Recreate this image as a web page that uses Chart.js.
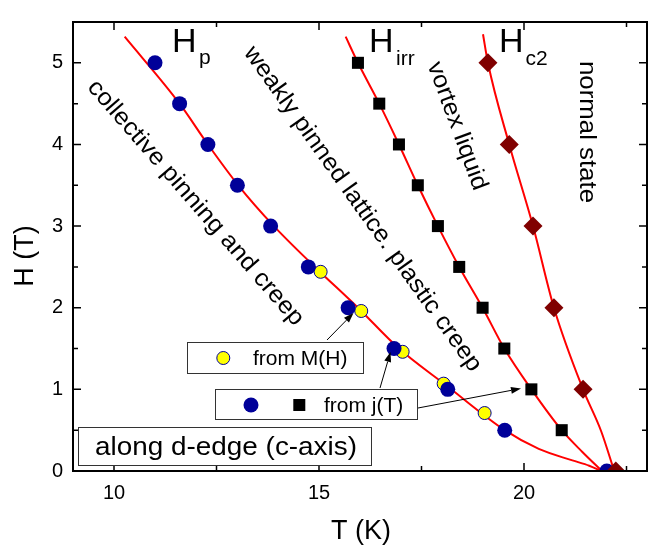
<!DOCTYPE html>
<html>
<head>
<meta charset="utf-8">
<script src="https://cdn.jsdelivr.net/npm/chart.js@4/dist/chart.umd.min.js"></script>
<style>
html,body{margin:0;padding:0;background:#fff;}
canvas{display:block;}
</style>
</head>
<body>
<canvas id="c" width="657" height="546"></canvas>
<script>
// ---- data ----
const xTickValues = [10, 15, 20];
const yTickValues = [0, 1, 2, 3, 4, 5];

// H_p from j(T) (blue circles)
const hpJT_T = [11.0, 11.6, 12.29, 13.01, 13.82, 14.74, 15.71, 16.83, 18.14, 19.53, 22.02];
const hpJT_H = [5.0, 4.5, 4.0, 3.5, 3.0, 2.5, 2.0, 1.5, 1.0, 0.5, 0.0];

// H_p from M(H) (yellow circles)
const hpMH_T = [15.04, 16.03, 17.04, 18.04, 19.04];
const hpMH_H = [2.44, 1.96, 1.46, 1.07, 0.71];

// H_irr (black squares)
const irr_T = [15.95, 16.47, 16.95, 17.41, 17.9, 18.42, 18.99, 19.52, 20.18, 20.92];
const irr_H = [5.0, 4.5, 4.0, 3.5, 3.0, 2.5, 2.0, 1.5, 1.0, 0.5];

// H_c2 (dark red diamonds)
const c2_T = [19.12, 19.64, 20.22, 20.73, 21.44, 22.24];
const c2_H = [5.0, 4.0, 3.0, 2.0, 1.0, 0.0];

// fitted guide curves
const fitHp_T = [10.26, 11.6, 12.29, 13.03, 13.9, 14.9, 15.95, 16.95, 18.1, 19.53, 20.36, 21.18, 21.59, 21.88];
const fitHp_H = [5.32, 4.5, 4.0, 3.5, 3.0, 2.5, 2.0, 1.5, 1.05, 0.5, 0.27, 0.13, 0.065, 0.0];
const fitIrr_T = [15.65, 15.95, 16.47, 16.95, 17.41, 17.9, 18.42, 18.99, 19.52, 20.18, 20.92, 21.43, 21.9];
const fitIrr_H = [5.32, 5.0, 4.5, 4.0, 3.5, 3.0, 2.5, 2.0, 1.5, 1.0, 0.5, 0.23, 0.0];
const fitC2_T = [19.0, 19.12, 19.64, 20.22, 20.73, 21.44, 21.88, 22.2];
const fitC2_H = [5.35, 5.0, 4.0, 3.0, 2.0, 1.0, 0.49, 0.0];

const zip = (xs, ys) => xs.map((x, i) => ({x: x, y: ys[i]}));
const FONT = '"Liberation Sans", Arial, Helvetica, sans-serif';

function txt(ctx, s, x, y, size, opts) {
  opts = opts || {};
  ctx.save();
  ctx.translate(x, y);
  if (opts.angle) ctx.rotate(opts.angle * Math.PI / 180);
  ctx.font = size + 'px ' + FONT;
  ctx.textAlign = opts.align || 'left';
  ctx.textBaseline = opts.baseline || 'alphabetic';
  if (opts.width) {
    const w = ctx.measureText(s).width;
    ctx.scale(opts.width / w, 1);
  }
  ctx.fillStyle = '#000';
  ctx.fillText(s, 0, 0);
  ctx.restore();
}

function arrow(ctx, x1, y1, x2, y2) {
  ctx.save();
  ctx.strokeStyle = '#000';
  ctx.fillStyle = '#000';
  ctx.lineWidth = 1;
  const a = Math.atan2(y2 - y1, x2 - x1);
  const L = 10, W = 3.5;
  ctx.beginPath();
  ctx.moveTo(x1, y1);
  ctx.lineTo(x2 - L * Math.cos(a), y2 - L * Math.sin(a));
  ctx.stroke();
  ctx.beginPath();
  ctx.moveTo(x2, y2);
  ctx.lineTo(x2 - L * Math.cos(a) + W * Math.sin(a), y2 - L * Math.sin(a) - W * Math.cos(a));
  ctx.lineTo(x2 - L * Math.cos(a) - W * Math.sin(a), y2 - L * Math.sin(a) + W * Math.cos(a));
  ctx.closePath();
  ctx.fill();
  ctx.restore();
}

function box(ctx, l, t, r, b) {
  ctx.save();
  ctx.fillStyle = '#fff';
  ctx.fillRect(l, t, r - l, b - t);
  ctx.strokeStyle = '#333';
  ctx.lineWidth = 1;
  ctx.strokeRect(l + 0.5, t + 0.5, r - l, b - t);
  ctx.restore();
}

const framePlugin = {
  id: 'frame',
  afterDraw(chart) {
    const ctx = chart.ctx;
    const a = chart.chartArea;
    const xs = chart.scales.x, ys = chart.scales.y;
    ctx.save();
    ctx.strokeStyle = '#000';
    ctx.lineWidth = 2;
    ctx.strokeRect(a.left, a.top, a.right - a.left, a.bottom - a.top);
    ctx.lineWidth = 1.5;
    ctx.beginPath();
    for (let v = 10; v <= 22.5; v += 2.5) {
      const px = xs.getPixelForValue(v);
      const len = (v % 5 === 0) ? 8 : 5;
      ctx.moveTo(px, a.bottom); ctx.lineTo(px, a.bottom - len);
      ctx.moveTo(px, a.top); ctx.lineTo(px, a.top + len);
    }
    for (let v = 0.5; v <= 5; v += 0.5) {
      const py = ys.getPixelForValue(v);
      const len = (Math.abs(v - Math.round(v)) < 1e-6) ? 8 : 5;
      ctx.moveTo(a.left, py); ctx.lineTo(a.left + len, py);
      ctx.moveTo(a.right, py); ctx.lineTo(a.right - len, py);
    }
    ctx.stroke();
    ctx.restore();

    // axis titles
    txt(ctx, 'T (K)', 361, 539, 27, {align: 'center'});
    txt(ctx, 'H (T)', 33, 256, 27, {align: 'center', angle: -90});

    // curve labels
    txt(ctx, 'H', 172, 52, 34);
    txt(ctx, 'p', 199, 64, 21);
    txt(ctx, 'H', 369, 52, 34);
    txt(ctx, 'irr', 396, 65, 21);
    txt(ctx, 'H', 499, 52, 34);
    txt(ctx, 'c2', 525.5, 65, 21);

    // region labels
    txt(ctx, 'collective pinning and creep', 195.5, 203, 24, {align: 'center', baseline: 'middle', angle: 49, width: 317});
    txt(ctx, 'weakly pinned lattice. plastic creep', 362.5, 209, 24, {align: 'center', baseline: 'middle', angle: 54.6, width: 393});
    txt(ctx, 'vortex liquid', 457, 126, 24, {align: 'center', baseline: 'middle', angle: 69.7, width: 135});
    txt(ctx, 'normal state', 587, 132, 24, {align: 'center', baseline: 'middle', angle: 90, width: 142});

    // legend boxes
    box(ctx, 187, 342, 363, 373);
    ctx.save();
    ctx.beginPath(); ctx.arc(223.3, 358, 6.5, 0, Math.PI * 2);
    ctx.fillStyle = '#ffff00'; ctx.fill();
    ctx.strokeStyle = '#000099'; ctx.lineWidth = 1; ctx.stroke();
    ctx.restore();
    txt(ctx, 'from M(H)', 253, 365, 21);

    box(ctx, 215, 389, 417, 419);
    ctx.save();
    ctx.beginPath(); ctx.arc(251, 405, 7.5, 0, Math.PI * 2);
    ctx.fillStyle = '#000099'; ctx.fill();
    ctx.fillStyle = '#000'; ctx.fillRect(293.3, 399, 12, 12);
    ctx.restore();
    txt(ctx, 'from j(T)', 324, 412, 21);

    box(ctx, 78, 427, 371, 465);
    txt(ctx, 'along d-edge (c-axis)', 226, 455, 26, {align: 'center', width: 262});

    arrow(ctx, 327, 340, 353.5, 313);
    arrow(ctx, 380, 388, 390.5, 352);
    arrow(ctx, 418, 408, 521, 388.5);
  }
};

const lineStyle = {
  type: 'line', showLine: true, borderColor: '#ff0000', borderWidth: 2,
  pointRadius: 0, fill: false, cubicInterpolationMode: 'monotone', order: 10
};

new Chart(document.getElementById('c'), {
  type: 'scatter',
  data: {
    datasets: [
      Object.assign({label: 'fit Hp', data: zip(fitHp_T, fitHp_H)}, lineStyle),
      Object.assign({label: 'fit Hirr', data: zip(fitIrr_T, fitIrr_H)}, lineStyle),
      Object.assign({label: 'fit Hc2', data: zip(fitC2_T, fitC2_H)}, lineStyle),
      {label: 'from M(H)', data: zip(hpMH_T, hpMH_H), pointStyle: 'circle', pointRadius: 6.5,
       backgroundColor: '#ffff00', borderColor: '#000099', borderWidth: 1, order: 3},
      {label: 'Hp from j(T)', data: zip(hpJT_T, hpJT_H), pointStyle: 'circle', pointRadius: 7.5,
       backgroundColor: '#000099', borderColor: '#000099', borderWidth: 0, order: 2},
      {label: 'Hirr', data: zip(irr_T, irr_H), pointStyle: 'rect', pointRadius: 8.5,
       backgroundColor: '#000', borderColor: '#000', borderWidth: 0, order: 2},
      {label: 'Hc2', data: zip(c2_T, c2_H), pointStyle: 'rectRot', pointRadius: 9.5,
       backgroundColor: '#800000', borderColor: '#800000', borderWidth: 0, order: 1}
    ]
  },
  options: {
    responsive: false,
    animation: false,
    devicePixelRatio: 1,
    layout: {padding: {top: 9, right: 10, left: 0, bottom: 0}},
    plugins: {legend: {display: false}, tooltip: {enabled: false}},
    scales: {
      x: {
        type: 'linear', min: 9, max: 23,
        grid: {display: false, drawTicks: false},
        border: {display: false},
        ticks: {color: '#000', font: {size: 20, family: FONT}, padding: 10},
        afterBuildTicks: s => { s.ticks = xTickValues.map(v => ({value: v})); },
        afterFit: s => { s.height = 75; }
      },
      y: {
        type: 'linear', min: 0, max: 5.5,
        grid: {display: false, drawTicks: false},
        border: {display: false},
        ticks: {color: '#000', font: {size: 20, family: FONT}, padding: 10},
        afterBuildTicks: s => { s.ticks = yTickValues.map(v => ({value: v})); },
        afterFit: s => { s.width = 73; }
      }
    }
  },
  plugins: [framePlugin]
});
</script>
</body>
</html>
